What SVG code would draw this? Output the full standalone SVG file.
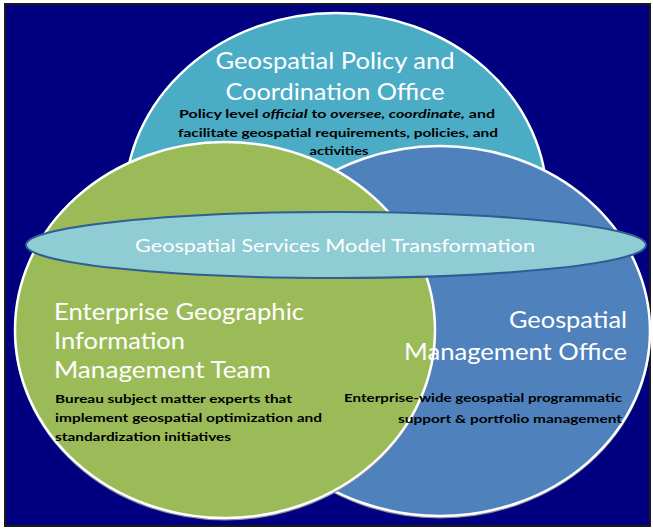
<svg xmlns="http://www.w3.org/2000/svg" width="653" height="529" viewBox="0 0 653 529">
<style>
.bg{fill:#000080;stroke:#1a1a1a;stroke-width:2}
.c{stroke:#fff;stroke-width:2.5}
.sh{fill:none;stroke:#8a8a9a;stroke-width:2}
.t{font-family:Lato,"Liberation Sans",Arial,sans-serif;fill:#fff}
.s{font-family:Lato,"Liberation Sans",Arial,sans-serif;font-weight:bold;fill:#000;font-size:12px}
.i{font-style:italic}
</style>
<rect width="653" height="529" fill="#fff"/>
<rect class="bg" x="5" y="4" width="645" height="522"/>

<g id="policy-office">
  <ellipse class="sh" cx="336" cy="202.5" rx="211" ry="188"/>
  <ellipse class="c" cx="336" cy="201" rx="211" ry="188" fill="#4BACC6"/>
</g>
<g id="management-office">
  <ellipse class="sh" cx="440" cy="332.5" rx="210" ry="185"/>
  <ellipse class="c" cx="440" cy="331" rx="210" ry="185" fill="#4F81BD"/>
</g>
<g id="egim-team">
  <ellipse class="sh" cx="225" cy="331.5" rx="210" ry="188"/>
  <ellipse class="c" cx="225" cy="330" rx="210" ry="188" fill="#9BBB59"/>
</g>
<g id="transformation">
  <ellipse cx="336" cy="245" rx="310" ry="33" fill="#90CCD3" stroke="#2F5E93" stroke-width="2"/>
  <text class="t" x="335" y="252" font-size="18" text-anchor="middle" textLength="400" lengthAdjust="spacingAndGlyphs">Geospatial Services Model Transformation</text>
</g>

<g id="policy-office-text">
  <text class="t" x="335" y="69" font-size="24" text-anchor="middle" textLength="239" lengthAdjust="spacingAndGlyphs">Geospatial Policy and</text>
  <text class="t" x="335" y="100" font-size="23" text-anchor="middle" textLength="219" lengthAdjust="spacingAndGlyphs">Coordination Office</text>
  <text class="s" x="337" y="118" text-anchor="middle" textLength="316" lengthAdjust="spacingAndGlyphs">Policy level <tspan class="i">official</tspan> to <tspan class="i">oversee, coordinate,</tspan> and</text>
  <text class="s" x="338" y="137" text-anchor="middle" textLength="320" lengthAdjust="spacingAndGlyphs">facilitate geospatial requirements, policies, and</text>
  <text class="s" x="339" y="155" text-anchor="middle" textLength="59" lengthAdjust="spacingAndGlyphs">activities</text>
</g>
<g id="egim-team-text">
  <text class="t" x="54" y="320" font-size="23" textLength="250" lengthAdjust="spacingAndGlyphs">Enterprise Geographic</text>
  <text class="t" x="54" y="349" font-size="23" textLength="131" lengthAdjust="spacingAndGlyphs">Information</text>
  <text class="t" x="54" y="378" font-size="23" textLength="217" lengthAdjust="spacingAndGlyphs">Management Team</text>
  <text class="s" x="55" y="403" textLength="237" lengthAdjust="spacingAndGlyphs">Bureau subject matter experts that</text>
  <text class="s" x="55" y="422" textLength="267" lengthAdjust="spacingAndGlyphs">implement geospatial optimization and</text>
  <text class="s" x="55" y="441" textLength="176" lengthAdjust="spacingAndGlyphs">standardization initiatives</text>
</g>
<g id="management-office-text">
  <text class="t" x="627" y="328" font-size="23" text-anchor="end" textLength="118" lengthAdjust="spacingAndGlyphs">Geospatial</text>
  <text class="t" x="627" y="360" font-size="23" text-anchor="end" textLength="223" lengthAdjust="spacingAndGlyphs">Management Office</text>
  <text class="s" x="622" y="402" text-anchor="end" textLength="278" lengthAdjust="spacingAndGlyphs">Enterprise-wide geospatial programmatic</text>
  <text class="s" x="622" y="423" text-anchor="end" textLength="224" lengthAdjust="spacingAndGlyphs">support &amp; portfolio management</text>
</g>
</svg>
